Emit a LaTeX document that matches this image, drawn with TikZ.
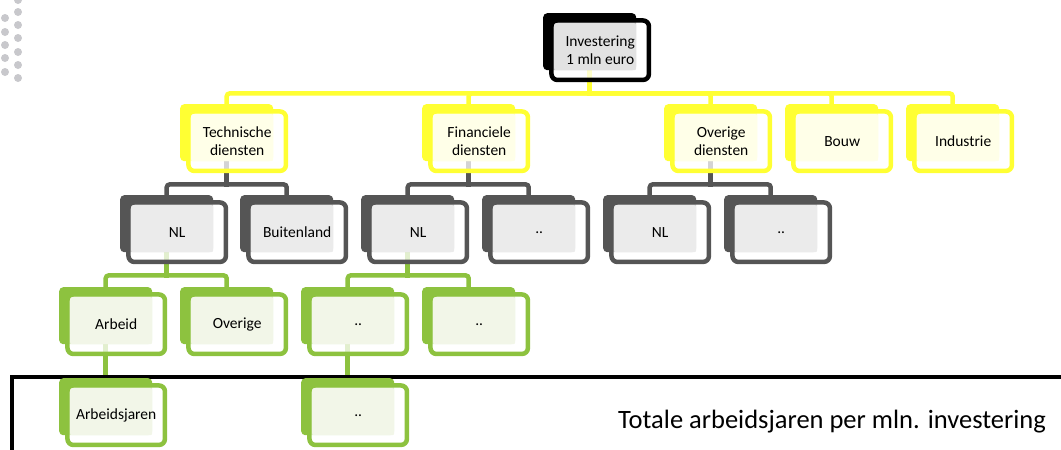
\documentclass[tikz,border=0pt]{standalone}
\usepackage{tikz}
\usepackage{xcolor}
\usepackage{fontspec}
\setmainfont{Carlito}
\usetikzlibrary{calc,
	positioning,
	shapes}
\definecolor{geel}{HTML}{FFFF33}
\definecolor{geellicht}{HTML}{FFFFE8}
\definecolor{donker}{HTML}{555555}
\definecolor{donkerlicht}{HTML}{EBEBEB}
\definecolor{groen}{HTML}{8DC23F}
\definecolor{groenlicht}{HTML}{F2F6E8}
\definecolor{toplicht}{HTML}{E2E2E2}
\definecolor{stip}{HTML}{C8C8CC}
\pgfdeclarelayer{achter}
\pgfsetlayers{achter,main}
\tikzstyle{bk}=[rounded corners=4pt, minimum width=93pt, minimum height=57pt, inner sep=0, anchor=north west]
\tikzstyle{lt}=[rounded corners=2pt, minimum width=82pt, minimum height=47pt, inner sep=0, anchor=north east]
\tikzstyle{fr}=[line width=4.5pt, rounded corners=6pt, minimum width=97.5pt, minimum height=59.5pt, inner sep=0, fill=white, fill opacity=0.75]
\tikzstyle{txt}=[font=\fontsize{15.5}{17.5}\selectfont, align=center, inner sep=0]
\tikzstyle{lnk}=[line width=4.5pt, rounded corners=3pt, line cap=rect]
\newcommand{\blok}[6]{%
	\node[bk, fill=#4] (#1-b) at (#2,#3) {};
	\node[fr, draw=#4] (#1-f) at ([xshift=10.5pt,yshift=-8.5pt]#1-b.center) {};
	\node[lt, fill=#5] (#1-l) at ([yshift=-10pt]#1-b.north east) {};
	\node[txt] (#1) at (#1-f.center) {#6};
}
\newcommand{\tak}[3]{%
	\coordinate (#1-j) at ([yshift=-23pt]#1-b.south);
	\draw[lnk, #2] (#1-b.south) -- (#1-j);
	\foreach \c in {#3} \draw[lnk, #2] (#1-j) -| (\c-b.north);
}
\begin{document}
\begin{tikzpicture}[x=1pt, y=-1pt]
	\useasboundingbox (0,0) rectangle (1061,450);
	\clip (0,0) rectangle (1061,450);
	\foreach \y in {18,32,45,58,72} \fill[stip] (5,\y) circle[radius=4pt];
	\foreach \y in {0,12,25,38,52,65,78} \fill[stip] (18,\y) circle[radius=4pt];

	\blok{inv}{543}{13}{black}{toplicht}{Investering\\1 mln euro}
	\blok{tech}{180}{104}{geel}{geellicht}{Technische\\diensten}
	\blok{fin}{422}{104}{geel}{geellicht}{Financiele\\diensten}
	\blok{ovd}{664}{104}{geel}{geellicht}{Overige\\diensten}
	\blok{bouw}{785}{104}{geel}{geellicht}{Bouw}
	\blok{ind}{906}{104}{geel}{geellicht}{Industrie}
	\blok{tnl}{120}{195}{donker}{donkerlicht}{NL}
	\blok{tbl}{240}{195}{donker}{donkerlicht}{Buitenland}
	\blok{fnl}{361}{195}{donker}{donkerlicht}{NL}
	\blok{fx}{482}{195}{donker}{donkerlicht}{..}
	\blok{onl}{603}{195}{donker}{donkerlicht}{NL}
	\blok{ox}{724}{195}{donker}{donkerlicht}{..}
	\blok{arb}{59}{287}{groen}{groenlicht}{Arbeid}
	\blok{ovr}{180}{287}{groen}{groenlicht}{Overige}
	\blok{fa}{301}{287}{groen}{groenlicht}{..}
	\blok{fb}{422}{287}{groen}{groenlicht}{..}
	\blok{aj}{59}{378}{groen}{groenlicht}{Arbeidsjaren}
	\blok{fc}{301}{378}{groen}{groenlicht}{..}

	\node[font=\fontsize{26.5}{30}\selectfont, anchor=base, inner sep=0] (totaal) at (832,428) {Totale arbeidsjaren per mln. investering};

	\begin{pgfonlayer}{achter}
		\tak{inv}{geel}{tech,fin,ovd,bouw,ind}
		\tak{tech}{donker}{tnl,tbl}
		\tak{fin}{donker}{fnl,fx}
		\tak{ovd}{donker}{onl,ox}
		\tak{tnl}{groen}{arb,ovr}
		\tak{fnl}{groen}{fa,fb}
		\tak{arb}{groen}{aj}
		\tak{fa}{groen}{fc}
		\draw[line width=4pt] (12,377) rectangle (1080,470);
	\end{pgfonlayer}
\end{tikzpicture}
\end{document}
